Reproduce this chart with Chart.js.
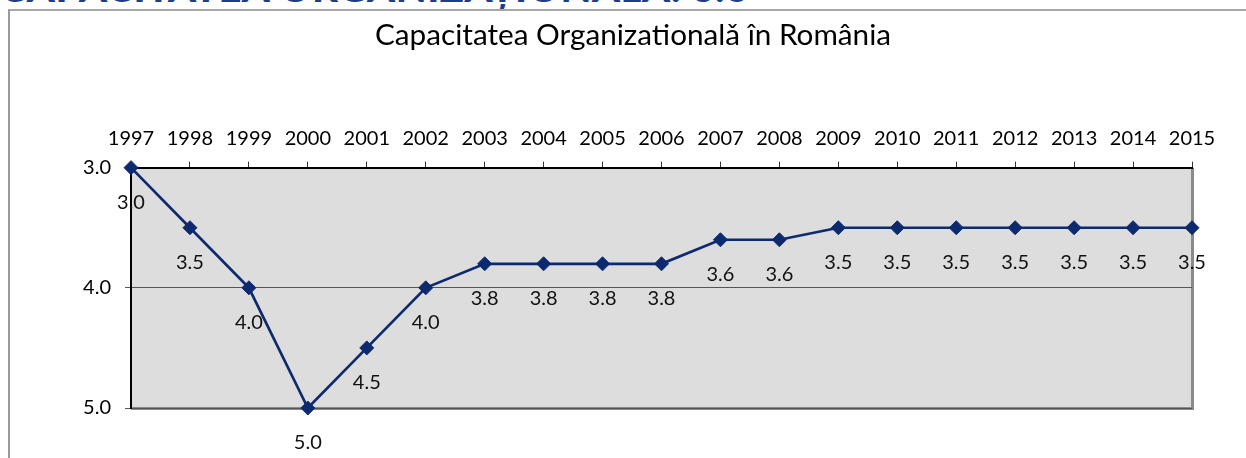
<!DOCTYPE html>
<html>
<head>
<meta charset="utf-8">
<script src="https://cdn.jsdelivr.net/npm/chart.js@4/dist/chart.umd.min.js"></script>
<style>
  html, body { margin: 0; padding: 0; background: #fff; overflow: hidden; }
  #wrap { position: relative; width: 1246px; height: 458px; }
  #frame { position: absolute; left: 8px; top: 9px; width: 2000px; height: 2000px;
           border-left: 2px solid #9a9a9a; border-top: 2px solid #a8a8a8; }
  #hdr { position: absolute; left: 0px; top: -37px; font-family: Lato, sans-serif; font-weight: 900;
         font-size: 40px; color: #1d3c8a; white-space: nowrap; letter-spacing: 0.5px; }
  canvas { position: absolute; left: 0; top: 0; }
</style>
</head>
<body>
<div id="wrap">
  <div id="hdr">CAPACITATEA ORGANIZAȚIONALĂ: 3.6</div>
  <div id="frame"></div>
  <canvas id="c" width="1246" height="458"></canvas>
</div>
<script>
const titleText = "Capacitatea Organizationalǎ în România";
const years = ["1997","1998","1999","2000","2001","2002","2003","2004","2005","2006","2007","2008","2009","2010","2011","2012","2013","2014","2015"];
const scores = [3.0, 3.5, 4.0, 5.0, 4.5, 4.0, 3.8, 3.8, 3.8, 3.8, 3.6, 3.6, 3.5, 3.5, 3.5, 3.5, 3.5, 3.5, 3.5];
const yTicks = [3.0, 4.0, 5.0];

const FONT = "Lato, 'Noto Sans', sans-serif";

const plotBg = {
  id: 'plotBg',
  beforeDraw(chart) {
    const {ctx, chartArea: a} = chart;
    ctx.save();
    ctx.fillStyle = '#dddddd';
    ctx.fillRect(a.left, a.top, a.right - a.left, a.bottom - a.top);
    ctx.strokeStyle = '#8a8a8a';
    ctx.lineWidth = 3;
    ctx.beginPath();
    ctx.moveTo(a.left, a.bottom + 0.5);
    ctx.lineTo(a.right + 0.5, a.bottom + 0.5);
    ctx.lineTo(a.right + 0.5, a.top);
    ctx.stroke();
    ctx.restore();
  }
};

const valueLabels = {
  id: 'valueLabels',
  afterDatasetsDraw(chart) {
    const {ctx} = chart;
    const meta = chart.getDatasetMeta(0);
    const data = chart.data.datasets[0].data;
    ctx.save();
    ctx.font = "20px " + FONT;
    ctx.fillStyle = '#111';
    ctx.textAlign = 'center';
    ctx.textBaseline = 'middle';
    meta.data.forEach((pt, i) => {
      ctx.fillText(Number(data[i]).toFixed(1), pt.x, pt.y + 35);
    });
    ctx.restore();
  }
};

new Chart(document.getElementById('c'), {
  type: 'line',
  data: {
    labels: years,
    datasets: [{
      data: scores,
      borderColor: '#0d2a6e',
      backgroundColor: '#0d2a6e',
      borderWidth: 2.7,
      pointStyle: 'rectRot',
      pointRadius: 7,
      pointHoverRadius: 7,
      pointBackgroundColor: '#0d2a6e',
      pointBorderColor: '#0d2a6e',
      pointBorderWidth: 1,
      tension: 0,
      fill: false,
      clip: false
    }]
  },
  options: {
    responsive: false,
    animation: false,
    devicePixelRatio: 1,
    layout: { padding: { left: 74, right: 54, top: 0, bottom: 50 } },
    plugins: {
      legend: { display: false },
      tooltip: { enabled: false },
      title: {
        display: true,
        text: titleText,
        color: '#000',
        font: { family: FONT, size: 29.7, weight: 'normal' },
        padding: { top: 18, bottom: 21 }
      }
    },
    scales: {
      x: {
        position: 'top',
        offset: false,
        grid: { drawOnChartArea: false, drawTicks: true, tickLength: 6, color: '#333', lineWidth: 1 },
        border: { display: true, color: '#000', width: 2 },
        ticks: { color: '#000', font: { family: FONT, size: 20 }, padding: 11, maxRotation: 0, autoSkip: false },
        afterFit(scale) { scale.height = 93; }
      },
      y: {
        reverse: true,
        min: 3,
        max: 5,
        afterBuildTicks(scale) { scale.ticks = yTicks.map(v => ({ value: v })); },
        grid: { drawOnChartArea: true, drawTicks: true, tickLength: 6, color: '#555', lineWidth: 1 },
        border: { display: true, color: '#000', width: 2 },
        ticks: { color: '#000', font: { family: FONT, size: 20 }, padding: 14,
                 callback: (v) => Number(v).toFixed(1) },
        afterFit(scale) { scale.width = 57; }
      }
    }
  },
  plugins: [plotBg, valueLabels]
});
</script>
</body>
</html>
